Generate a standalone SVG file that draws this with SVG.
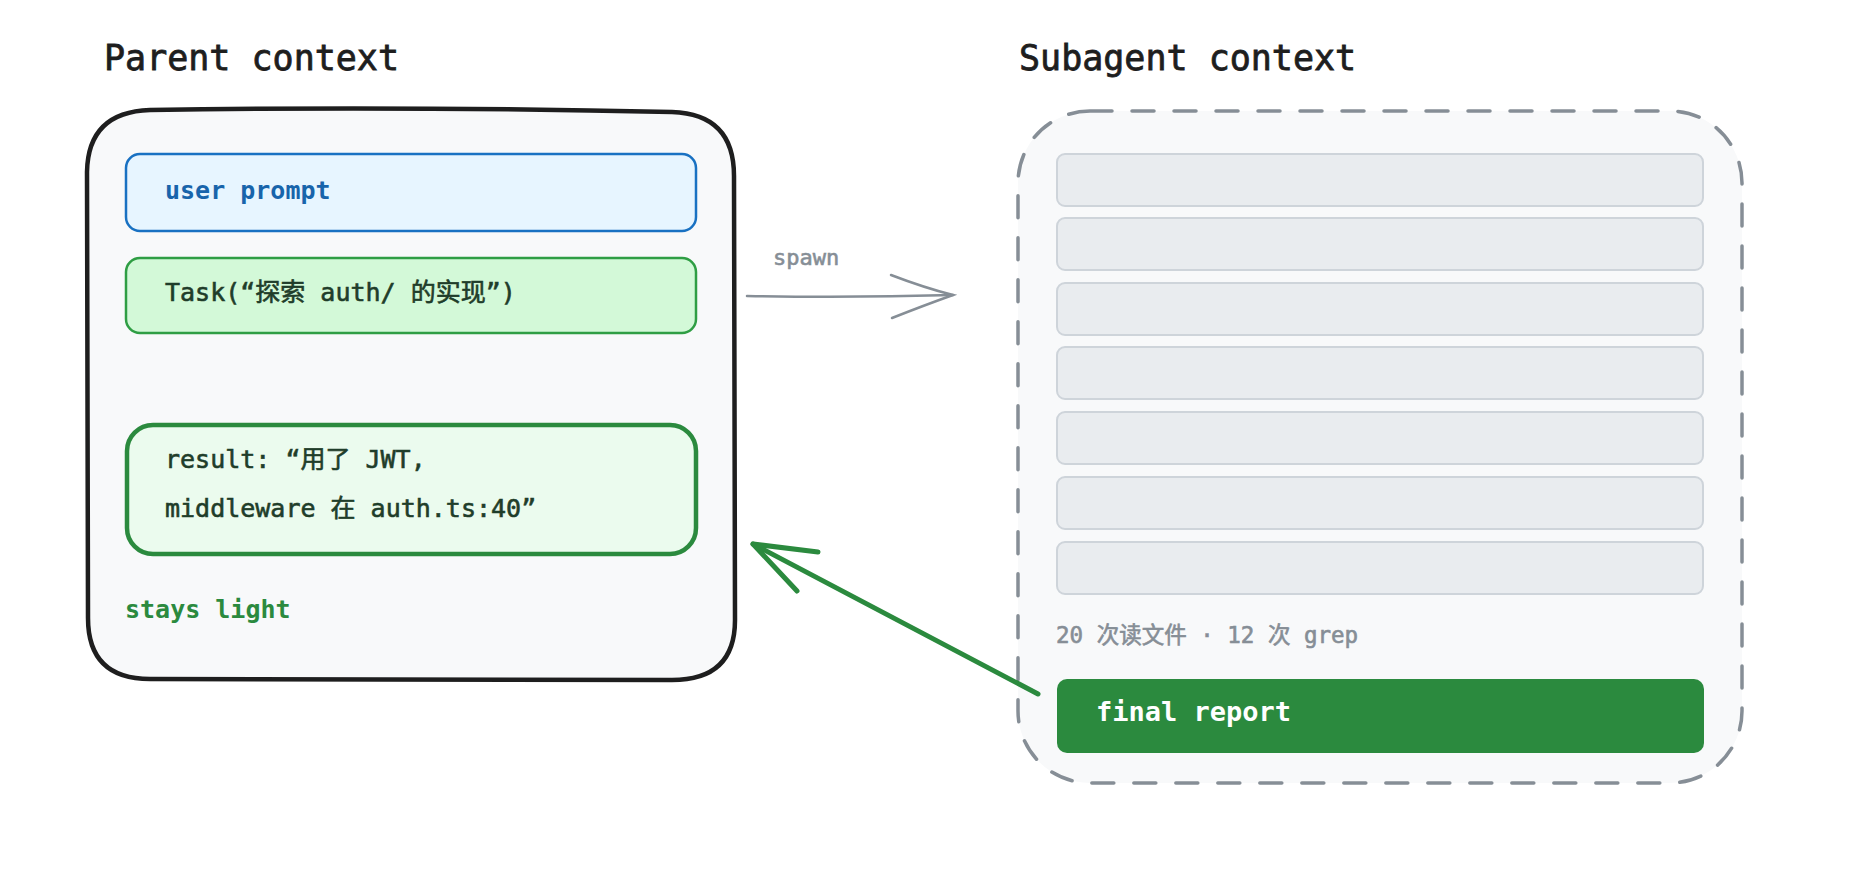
<svg xmlns="http://www.w3.org/2000/svg" width="1874" height="876" viewBox="0 0 1874 876">
<style>
.mono{font-family:"DejaVu Sans Mono","Liberation Mono","Noto Sans CJK SC",monospace;}
.title{font-size:35px;fill:#1e1e1e;stroke:#1e1e1e;stroke-width:0.8;}
.lbl{font-size:25px;}
.med{stroke:#1f3d2a;stroke-width:0.6;}
.bar{fill:#e9ecef;stroke:#ced4da;stroke-width:2;}
</style>
<rect width="1874" height="876" fill="#ffffff"/>
<g id="parent-title"><text class="mono title" x="104" y="70">Parent context</text></g>
<g id="subagent-title"><text class="mono title" x="1019" y="70">Subagent context</text></g>

<g id="parent-context">
<path d="M150,110 Q400,106 672,112 Q734,114 734,176 L735,620 Q735,680 672,680 L150,679 Q88,679 88,618 L87,172 Q88,112 150,110 Z" fill="#f8f9fa" stroke="#1e1e1e" stroke-width="4.5" stroke-linejoin="round"/>
</g>

<g id="user-prompt">
<rect x="126" y="154" width="570" height="77" rx="14" fill="#e7f5ff" stroke="#1971c2" stroke-width="2.5"/>
<text class="mono lbl" x="165" y="199" fill="#1864ab" font-weight="bold">user prompt</text>
</g>

<g id="task">
<rect x="126" y="258" width="570" height="75" rx="14" fill="#d3f9d8" stroke="#2f9e44" stroke-width="2.5"/>
<text class="mono lbl med" x="165" y="301" fill="#1f3d2a">Task(“探索 auth/ 的实现”)</text>
</g>

<g id="result">
<rect x="127" y="425" width="569" height="129" rx="26" fill="#ebfbee" stroke="#2b8a3e" stroke-width="4.5"/>
<text class="mono lbl med" x="165" y="468" fill="#1f3d2a">result: “用了 JWT,</text>
<text class="mono lbl med" x="165" y="517" fill="#1f3d2a">middleware 在 auth.ts:40”</text>
</g>

<g id="stays-light"><text class="mono lbl" x="125" y="618" fill="#2b8a3e" font-weight="bold">stays light</text></g>

<g id="subagent-context">
<rect x="1018" y="111" width="724" height="672" rx="72" fill="#f8f9fa" stroke="#868e96" stroke-width="3.5" stroke-dasharray="22 20" stroke-linecap="round"/>
</g>

<g id="work-items">
<rect class="bar" x="1057" y="154" width="646" height="52" rx="8"/>
<rect class="bar" x="1057" y="218" width="646" height="52" rx="8"/>
<rect class="bar" x="1057" y="283" width="646" height="52" rx="8"/>
<rect class="bar" x="1057" y="347" width="646" height="52" rx="8"/>
<rect class="bar" x="1057" y="412" width="646" height="52" rx="8"/>
<rect class="bar" x="1057" y="477" width="646" height="52" rx="8"/>
<rect class="bar" x="1057" y="542" width="646" height="52" rx="8"/>
</g>

<g id="stats"><text class="mono" x="1056" y="643" font-size="22.5" fill="#868e96" stroke="#868e96" stroke-width="0.6">20 次读文件 · 12 次 grep</text></g>

<g id="final-report">
<rect x="1057" y="679" width="647" height="74" rx="10" fill="#2b8a3e"/>
<text class="mono" x="1096" y="721" font-size="27" fill="#ffffff" font-weight="bold">final report</text>
</g>

<g id="connectors" fill="none" stroke-linecap="round">
<g id="spawn">
<path d="M747,296 Q850,298 953,295" stroke="#868e96" stroke-width="2.5"/>
<path d="M891,275 Q925,288 953,295 Q925,305 892,318" stroke="#868e96" stroke-width="2.5"/>
<text class="mono" x="773" y="265" font-size="22" fill="#868e96" stroke="#868e96" stroke-width="0.6">spawn</text>
</g>
<g id="return">
<path d="M1038,694 L753,544" stroke="#2b8a3e" stroke-width="5"/>
<path d="M818,552 L753,544 L797,591" stroke="#2b8a3e" stroke-width="5" stroke-linejoin="round"/>
</g>
</g>
</svg>
